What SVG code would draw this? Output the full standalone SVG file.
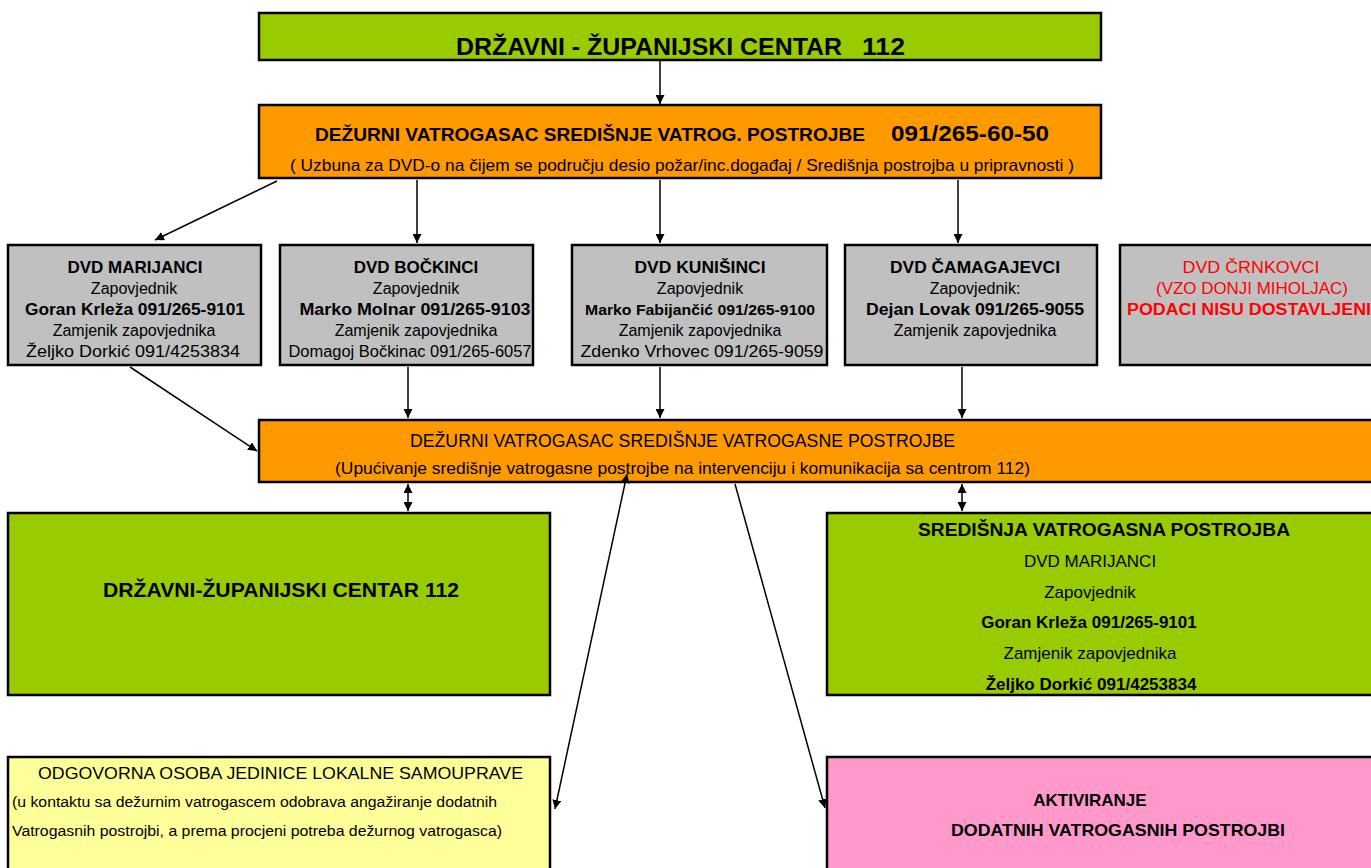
<svg xmlns="http://www.w3.org/2000/svg" width="1371" height="868" viewBox="0 0 1371 868">
<defs>
<marker id="ah" viewBox="0 0 10 10" refX="10" refY="5" markerWidth="9" markerHeight="9" markerUnits="userSpaceOnUse" orient="auto-start-reverse">
<path d="M0,0 L10,5 L0,10 z" fill="#000"/>
</marker>
<style>
.box{stroke:#000;stroke-width:2.5}
.g{fill:#99CC00}.o{fill:#FF9900}.gr{fill:#C0C0C0}.y{fill:#FFFF99}.p{fill:#FF99CC}
text{font-family:"Liberation Sans",Arial,sans-serif;fill:#000;text-anchor:middle}
.s{text-anchor:start}
.b{font-weight:bold}
.t17{font-size:17px}.t16{font-size:16px}.t15{font-size:15px}.t14{font-size:14px}
.red{fill:#FF0000}
.c{stroke:#000;stroke-width:1.5;fill:none}
</style>
</defs>
<g id="top">
<rect class="box g" x="259" y="13" width="842" height="47"/>
<text class="b s" x="456" y="55" font-size="24" textLength="386" lengthAdjust="spacingAndGlyphs">DRŽAVNI - ŽUPANIJSKI CENTAR</text>
<text class="b s" x="862" y="55" font-size="24" textLength="43" lengthAdjust="spacingAndGlyphs">112</text>
</g>
<g id="dezurni1">
<rect class="box o" x="259" y="105" width="842" height="73"/>
<text class="b s" x="315" y="141" font-size="18" textLength="550" lengthAdjust="spacingAndGlyphs">DEŽURNI VATROGASAC SREDIŠNJE VATROG. POSTROJBE</text>
<text class="b s" x="891" y="141" font-size="22" textLength="158" lengthAdjust="spacingAndGlyphs">091/265-60-50</text>
<text class="s" x="290" y="171" font-size="17" textLength="784" lengthAdjust="spacingAndGlyphs">( Uzbuna za DVD-o na čijem se području desio požar/inc.događaj / Središnja postrojba u pripravnosti )</text>
</g>
<g id="marijanci">
<rect class="box gr" x="8" y="245" width="253" height="120"/>
<text class="b t17" x="135" y="273">DVD MARIJANCI</text>
<text class="t16" x="134" y="294">Zapovjednik</text>
<text class="b t16" x="135" y="315" textLength="220" lengthAdjust="spacingAndGlyphs">Goran Krleža 091/265-9101</text>
<text class="t16" x="134" y="336">Zamjenik zapovjednika</text>
<text class="t16" x="133" y="357" textLength="214" lengthAdjust="spacingAndGlyphs">Željko Dorkić 091/4253834</text>
</g>
<g id="bockinci">
<rect class="box gr" x="280" y="245" width="253" height="120"/>
<text class="b t17" x="416" y="273">DVD BOČKINCI</text>
<text class="t16" x="416" y="294">Zapovjednik</text>
<text class="b t16" x="415" y="315" textLength="231" lengthAdjust="spacingAndGlyphs">Marko Molnar  091/265-9103</text>
<text class="t16" x="416" y="336">Zamjenik zapovjednika</text>
<text class="t16" x="410" y="357" textLength="243" lengthAdjust="spacingAndGlyphs">Domagoj Bočkinac 091/265-6057</text>
</g>
<g id="kunisinci">
<rect class="box gr" x="572" y="245" width="255" height="120"/>
<text class="b t17" x="700" y="273" textLength="131" lengthAdjust="spacingAndGlyphs">DVD KUNIŠINCI</text>
<text class="t16" x="700" y="294">Zapovjednik</text>
<text class="b t15" x="700" y="315" textLength="230" lengthAdjust="spacingAndGlyphs">Marko Fabijančić 091/265-9100</text>
<text class="t16" x="700" y="336">Zamjenik zapovjednika</text>
<text class="t16" x="702" y="357" textLength="243" lengthAdjust="spacingAndGlyphs">Zdenko Vrhovec 091/265-9059</text>
</g>
<g id="camagajevci">
<rect class="box gr" x="845" y="245" width="252" height="120"/>
<text class="b t17" x="975" y="273" textLength="170" lengthAdjust="spacingAndGlyphs">DVD ČAMAGAJEVCI</text>
<text class="t16" x="975" y="294">Zapovjednik:</text>
<text class="b t16" x="975" y="315" textLength="218" lengthAdjust="spacingAndGlyphs">Dejan Lovak 091/265-9055</text>
<text class="t16" x="975" y="336">Zamjenik zapovjednika</text>
</g>
<g id="crnkovci">
<rect class="box gr" x="1120" y="245" width="260" height="120"/>
<text class="t17 red" x="1251" y="273" textLength="137" lengthAdjust="spacingAndGlyphs">DVD ČRNKOVCI</text>
<text class="t16 red" x="1252" y="294" textLength="192" lengthAdjust="spacingAndGlyphs">(VZO DONJI MIHOLJAC)</text>
<text class="b t16 red s" x="1127" y="315" textLength="244" lengthAdjust="spacingAndGlyphs">PODACI NISU DOSTAVLJENI</text>
</g>
<g id="dezurni2">
<rect class="box o" x="259" y="420" width="1120" height="62"/>
<text class="s" x="410" y="447" font-size="18" textLength="545" lengthAdjust="spacingAndGlyphs">DEŽURNI VATROGASAC SREDIŠNJE VATROGASNE POSTROJBE</text>
<text class="s" x="335" y="474" font-size="17" textLength="695" lengthAdjust="spacingAndGlyphs">(Upućivanje središnje vatrogasne postrojbe na intervenciju i komunikacija sa centrom 112)</text>
</g>
<g id="centar112">
<rect class="box g" x="8" y="513" width="542" height="182"/>
<text class="b s" x="103" y="597" font-size="21" textLength="356" lengthAdjust="spacingAndGlyphs">DRŽAVNI-ŽUPANIJSKI CENTAR 112</text>
</g>
<g id="sredisnja">
<rect class="box g" x="827" y="513" width="560" height="182"/>
<text class="b s" x="918" y="536" font-size="18" textLength="372" lengthAdjust="spacingAndGlyphs">SREDIŠNJA VATROGASNA POSTROJBA</text>
<text class="t17" x="1090" y="567">DVD MARIJANCI</text>
<text class="t17" x="1090" y="598">Zapovjednik</text>
<text class="b t17" x="1089" y="628">Goran Krleža 091/265-9101</text>
<text class="t17" x="1090" y="659">Zamjenik zapovjednika</text>
<text class="b t17" x="1091" y="690">Željko Dorkić 091/4253834</text>
</g>
<g id="odgovorna">
<rect class="box y" x="8" y="757" width="542" height="120"/>
<text class="s" x="38" y="779" font-size="17" textLength="485" lengthAdjust="spacingAndGlyphs">ODGOVORNA OSOBA JEDINICE LOKALNE SAMOUPRAVE</text>
<text class="s" x="12" y="807" font-size="14" textLength="485" lengthAdjust="spacingAndGlyphs">(u kontaktu sa dežurnim vatrogascem odobrava angažiranje dodatnih</text>
<text class="s" x="12" y="836" font-size="14" textLength="490" lengthAdjust="spacingAndGlyphs">Vatrogasnih postrojbi, a prema procjeni potreba dežurnog vatrogasca)</text>
</g>
<g id="aktiviranje">
<rect class="box p" x="827" y="757" width="560" height="120"/>
<text class="b t17" x="1090" y="806">AKTIVIRANJE</text>
<text class="b s" x="951" y="836" font-size="17" textLength="334" lengthAdjust="spacingAndGlyphs">DODATNIH VATROGASNIH POSTROJBI</text>
</g>
<g id="connectors">
<line class="c" x1="660" y1="61" x2="660" y2="104" marker-end="url(#ah)"/>
<line class="c" x1="277" y1="181" x2="155" y2="240" marker-end="url(#ah)"/>
<line class="c" x1="417" y1="180" x2="417" y2="243" marker-end="url(#ah)"/>
<line class="c" x1="660" y1="180" x2="660" y2="243" marker-end="url(#ah)"/>
<line class="c" x1="958" y1="180" x2="958" y2="243" marker-end="url(#ah)"/>
<line class="c" x1="130" y1="367" x2="257" y2="451" marker-end="url(#ah)"/>
<line class="c" x1="408" y1="367" x2="408" y2="418" marker-end="url(#ah)"/>
<line class="c" x1="660" y1="367" x2="660" y2="418" marker-end="url(#ah)"/>
<line class="c" x1="962" y1="367" x2="962" y2="418" marker-end="url(#ah)"/>
<line class="c" x1="408" y1="484" x2="408" y2="511" marker-start="url(#ah)" marker-end="url(#ah)"/>
<line class="c" x1="962" y1="484" x2="962" y2="511" marker-start="url(#ah)" marker-end="url(#ah)"/>
<line class="c" x1="627" y1="474" x2="555" y2="809" marker-start="url(#ah)" marker-end="url(#ah)"/>
<line class="c" x1="735" y1="484" x2="825" y2="808" marker-end="url(#ah)"/>
</g>
</svg>
